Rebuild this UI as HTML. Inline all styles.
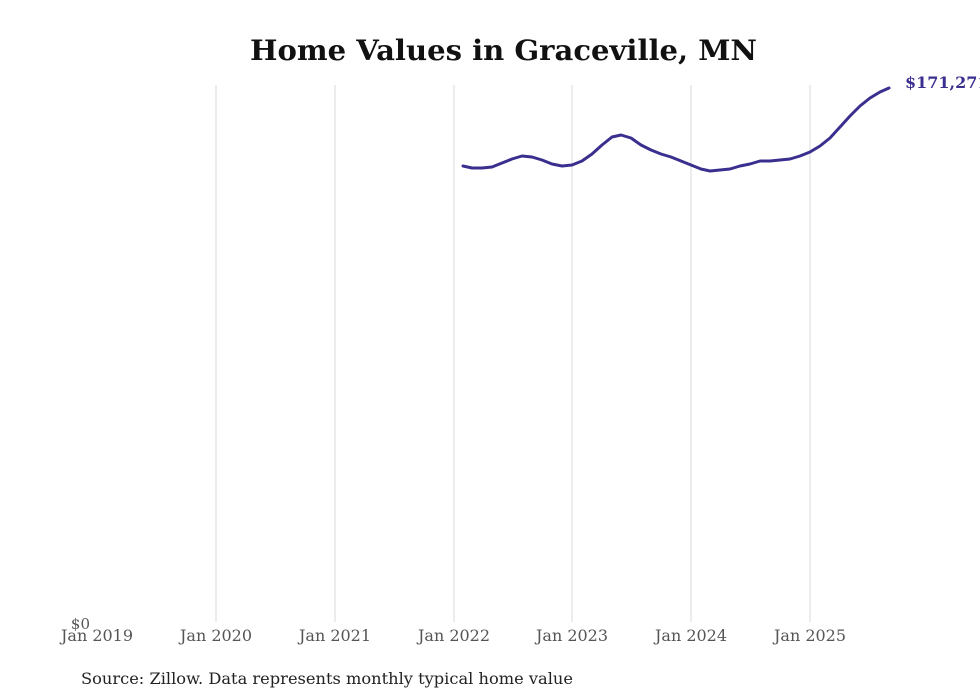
<!DOCTYPE html>
<html><head><meta charset="utf-8"><style>
html,body{margin:0;padding:0;background:#fff;}
svg{display:block;}
text{font-family:"DejaVu Serif","Liberation Serif",serif;}
</style></head><body>
<svg width="980" height="699" viewBox="0 0 980 699" xmlns="http://www.w3.org/2000/svg">
<rect width="980" height="699" fill="#fff"/>
<text x="250" y="60" font-size="28" font-weight="bold" fill="#111" textLength="507" lengthAdjust="spacingAndGlyphs">Home Values in Graceville, MN</text>
<g stroke="#d0d0d0" stroke-width="0.8">
<line x1="216" y1="85" x2="216" y2="622"/>
<line x1="335" y1="85" x2="335" y2="622"/>
<line x1="454" y1="85" x2="454" y2="622"/>
<line x1="572" y1="85" x2="572" y2="622"/>
<line x1="691" y1="85" x2="691" y2="622"/>
<line x1="810" y1="85" x2="810" y2="622"/>
</g>
<g font-size="16" fill="#555" text-anchor="middle">
<text x="97" y="641" textLength="72" lengthAdjust="spacingAndGlyphs">Jan 2019</text>
<text x="216" y="641" textLength="72" lengthAdjust="spacingAndGlyphs">Jan 2020</text>
<text x="335" y="641" textLength="72" lengthAdjust="spacingAndGlyphs">Jan 2021</text>
<text x="454" y="641" textLength="72" lengthAdjust="spacingAndGlyphs">Jan 2022</text>
<text x="572" y="641" textLength="72" lengthAdjust="spacingAndGlyphs">Jan 2023</text>
<text x="691" y="641" textLength="72" lengthAdjust="spacingAndGlyphs">Jan 2024</text>
<text x="810" y="641" textLength="72" lengthAdjust="spacingAndGlyphs">Jan 2025</text>
</g>
<text x="90" y="629" font-size="15" fill="#555" text-anchor="end">$0</text>
<polyline fill="none" stroke="#3a2f8f" stroke-width="3" stroke-linejoin="round" stroke-linecap="round"
points="463,166 472,168 482,168 492,167 502,163 512,159 522,156 532,157 542,160 552,164 562,166 572,165 582,161 592,154 602,145 612,137 621,135 631,138 641,145 651,150 661,154 671,157 681,161 691,165 701,169 710,171 720,170 730,169 740,166 750,164 760,161 770,161 780,160 790,159 800,156 810,152 820,146 830,138 840,127 850,116 860,106 870,98 880,92 889,88"/>
<text x="905" y="88" font-size="16" font-weight="bold" fill="#3a2f8f">$171,271</text>
<text x="81" y="684" font-size="16" fill="#222" textLength="492" lengthAdjust="spacingAndGlyphs">Source: Zillow. Data represents monthly typical home value</text>
</svg>
</body></html>
